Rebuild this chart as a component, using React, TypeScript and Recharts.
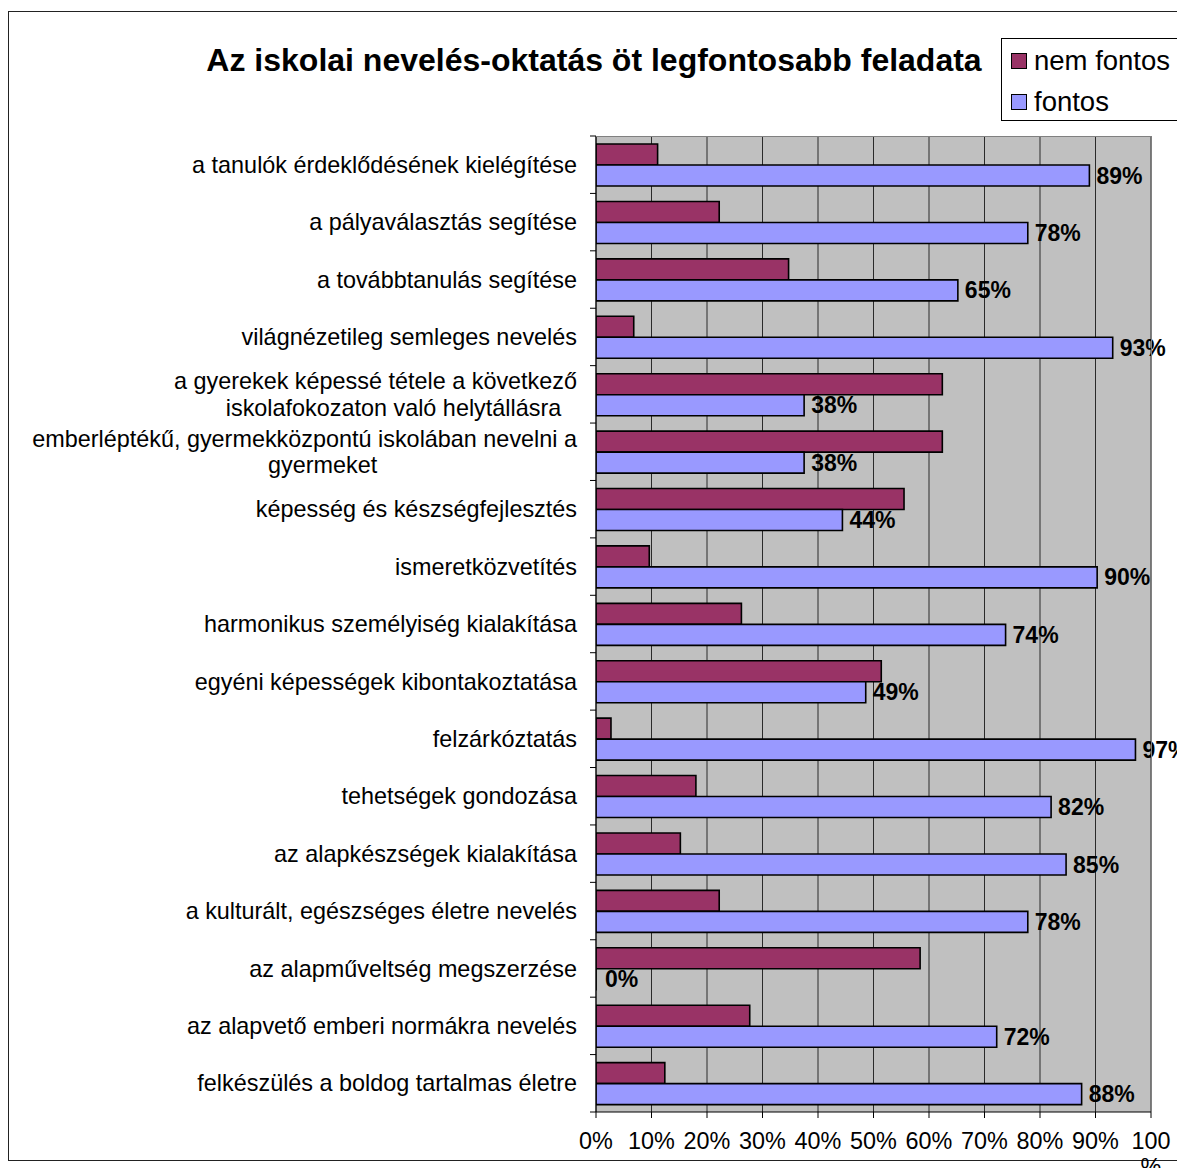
import React from 'react';
import { BarChart, Bar, XAxis, YAxis, CartesianGrid, LabelList } from 'recharts';

const categories = [
  'a tanulók érdeklődésének kielégítése',
  'a pályaválasztás segítése',
  'a továbbtanulás segítése',
  'világnézetileg semleges nevelés',
  'a gyerekek képessé tétele a következő\niskolafokozaton való helytállásra',
  'emberléptékű, gyermekközpontú iskolában nevelni a\ngyermeket',
  'képesség és készségfejlesztés',
  'ismeretközvetítés',
  'harmonikus személyiség kialakítása',
  'egyéni képességek kibontakoztatása',
  'felzárkóztatás',
  'tehetségek gondozása',
  'az alapkészségek kialakítása',
  'a kulturált, egészséges életre nevelés',
  'az alapműveltség megszerzése',
  'az alapvető emberi normákra nevelés',
  'felkészülés a boldog tartalmas életre',
];

const nemFontos = [11.1, 22.2, 34.7, 6.8, 62.4, 62.4, 55.5, 9.6, 26.2, 51.4, 2.7, 18, 15.2, 22.2, 58.4, 27.7, 12.4];
const fontos = [88.9, 77.8, 65.2, 93.1, 37.5, 37.5, 44.4, 90.3, 73.8, 48.6, 97.2, 82, 84.7, 77.8, 0, 72.2, 87.5];

const seriesNames = ['nem fontos', 'fontos'];
const seriesColors = ['#993366', '#9999FF'];

const xTicks = [0, 10, 20, 30, 40, 50, 60, 70, 80, 90, 100];
const xTickLabels = ['0%', '10%', '20%', '30%', '40%', '50%', '60%', '70%', '80%', '90%', '100\n%'];

const title = 'Az iskolai nevelés-oktatás öt legfontosabb feladata';

const data = categories.map((name, i) => ({ name, nemFontos: nemFontos[i], fontos: fontos[i] }));

const FONT = '"Liberation Sans", Arial, Helvetica, sans-serif';
const W = 1169;
const H = 1160;
const PLOT_LEFT = 588;
const PLOT_TOP = 128;
const PLOT_RIGHT = 1143;
const PLOT_BOTTOM = 1104;
const BAND = (PLOT_BOTTOM - PLOT_TOP) / categories.length;
const CAT_FS = 23.4;
const LINE_SHIFT = 18;

let ctx: CanvasRenderingContext2D | null = null;
function measure(text: string, font: string): number {
  if (!ctx) {
    const c = document.createElement('canvas');
    ctx = c.getContext('2d');
  }
  if (!ctx) return text.length * CAT_FS * 0.5;
  ctx.font = font;
  return ctx.measureText(text).width;
}

const CatTick = (props: any) => {
  const { y, payload, index } = props;
  const lines = String(payload.value).split('\n');
  const right = PLOT_LEFT - 19;
  const lineH = 26.5;
  const font = `${CAT_FS}px ${FONT}`;
  const maxW = Math.max(...lines.map((l) => measure(l, font)));
  const isLast = index === categories.length - 1;
  return (
    <g>
      <line x1={PLOT_LEFT - 6} x2={PLOT_LEFT} y1={y - BAND / 2} y2={y - BAND / 2} stroke="#000" strokeWidth={1} />
      {isLast && (
        <line x1={PLOT_LEFT - 6} x2={PLOT_LEFT} y1={y + BAND / 2} y2={y + BAND / 2} stroke="#000" strokeWidth={1} />
      )}
      {lines.length === 1 ? (
        <text x={right} y={y} dy="0.35em" textAnchor="end" fontSize={CAT_FS} fontFamily={FONT} fill="#000">
          {lines[0]}
        </text>
      ) : (
        lines.map((l, i) => (
          <text
            key={i}
            x={right - maxW / 2 + (i > 0 ? LINE_SHIFT : 0)}
            y={y + (i - (lines.length - 1) / 2) * lineH}
            dy="0.35em"
            textAnchor="middle"
            fontSize={CAT_FS}
            fontFamily={FONT}
            fill="#000"
          >
            {l}
          </text>
        ))
      )}
    </g>
  );
};

const XTick = (props: any) => {
  const { x, payload } = props;
  const idx = xTicks.indexOf(payload.value);
  const label = idx >= 0 ? xTickLabels[idx] : '';
  const lines = label.split('\n');
  return (
    <g>
      {lines.map((l, i) => (
        <text
          key={i}
          x={x}
          y={PLOT_BOTTOM + 29 + i * 26}
          dy="0.35em"
          textAnchor="middle"
          fontSize={CAT_FS}
          fontFamily={FONT}
          fill="#000"
        >
          {l}
        </text>
      ))}
    </g>
  );
};

const ValueLabel = (props: any) => {
  const { x, y, width, height, value } = props;
  const v = Number(value);
  const w = v === 0 ? 0 : Number(width || 0);
  return (
    <text
      x={Number(x) + w + (v === 0 ? 9 : 7)}
      y={Number(y) + Number(height) / 2}
      dy="0.35em"
      textAnchor="start"
      fontSize={23}
      fontWeight="bold"
      fontFamily={FONT}
      fill="#000"
    >
      {`${Math.round(v)}%`}
    </text>
  );
};

export default function App() {
  return (
    <div
      style={{
        position: 'fixed',
        left: 8,
        top: 8,
        width: W,
        height: H,
        overflow: 'hidden',
        fontFamily: FONT,
        background: '#fff',
      }}
    >
      <div
        style={{
          position: 'absolute',
          left: 0,
          top: 3,
          width: 1300,
          height: 1150,
          boxSizing: 'border-box',
          border: '1.5px solid #222',
        }}
      />
      <div
        style={{
          position: 'absolute',
          left: 0,
          top: 36,
          width: 1172,
          textAlign: 'center',
          fontSize: 32,
          fontWeight: 'bold',
          lineHeight: 1,
          color: '#000',
          whiteSpace: 'nowrap',
        }}
      >
        {title}
      </div>
      <div style={{ position: 'absolute', left: 0, top: 0 }}>
        <BarChart
          width={W}
          height={H}
          data={data}
          layout="vertical"
          margin={{ top: PLOT_TOP, right: W - PLOT_RIGHT, bottom: 6, left: 0 }}
          barCategoryGap="14%"
          barGap={0}
        >
          <CartesianGrid horizontal={false} vertical={true} stroke="#2a2a2a" fill="#C0C0C0" fillOpacity={1} />
          <XAxis
            type="number"
            domain={[0, 100]}
            ticks={xTicks}
            interval={0}
            height={H - 6 - PLOT_BOTTOM}
            axisLine={{ stroke: '#000', strokeWidth: 1 }}
            tickLine={{ stroke: '#000', strokeWidth: 1 }}
            tickSize={6}
            tick={<XTick />}
            allowDataOverflow
          />
          <YAxis
            type="category"
            dataKey="name"
            width={PLOT_LEFT}
            interval={0}
            axisLine={{ stroke: '#000', strokeWidth: 1 }}
            tickLine={false}
            tick={<CatTick />}
          />
          <Bar
            dataKey="nemFontos"
            name={seriesNames[0]}
            fill={seriesColors[0]}
            stroke="#000"
            strokeWidth={1.6}
            isAnimationActive={false}
          />
          <Bar
            dataKey="fontos"
            name={seriesNames[1]}
            fill={seriesColors[1]}
            stroke="#000"
            strokeWidth={1.6}
            minPointSize={(v: any) => (Number(v) === 0 ? 0.01 : 0)}
            isAnimationActive={false}
          >
            <LabelList dataKey="fontos" content={<ValueLabel />} />
          </Bar>
        </BarChart>
      </div>
      <div
        style={{
          position: 'absolute',
          left: PLOT_LEFT,
          top: PLOT_TOP,
          width: PLOT_RIGHT - PLOT_LEFT + 1,
          height: PLOT_BOTTOM - PLOT_TOP,
          boxSizing: 'border-box',
          borderTop: '1.5px solid #808080',
          borderRight: '1.5px solid #808080',
          pointerEvents: 'none',
        }}
      />
      <div
        style={{
          position: 'absolute',
          left: 993,
          top: 30,
          width: 260,
          height: 83,
          boxSizing: 'border-box',
          border: '1px solid #000',
          background: '#fff',
        }}
      >
        {seriesNames.map((n, i) => (
          <div
            key={n}
            style={{
              position: 'absolute',
              left: 9,
              top: i === 0 ? 7 : 48,
              height: 30,
              display: 'flex',
              alignItems: 'center',
              whiteSpace: 'nowrap',
            }}
          >
            <span
              style={{
                display: 'inline-block',
                width: 16,
                height: 16,
                boxSizing: 'border-box',
                border: '1.5px solid #000',
                background: seriesColors[i],
                marginRight: 7,
              }}
            />
            <span style={{ fontSize: 27.5, color: '#000', lineHeight: '30px' }}>{n}</span>
          </div>
        ))}
      </div>
    </div>
  );
}
